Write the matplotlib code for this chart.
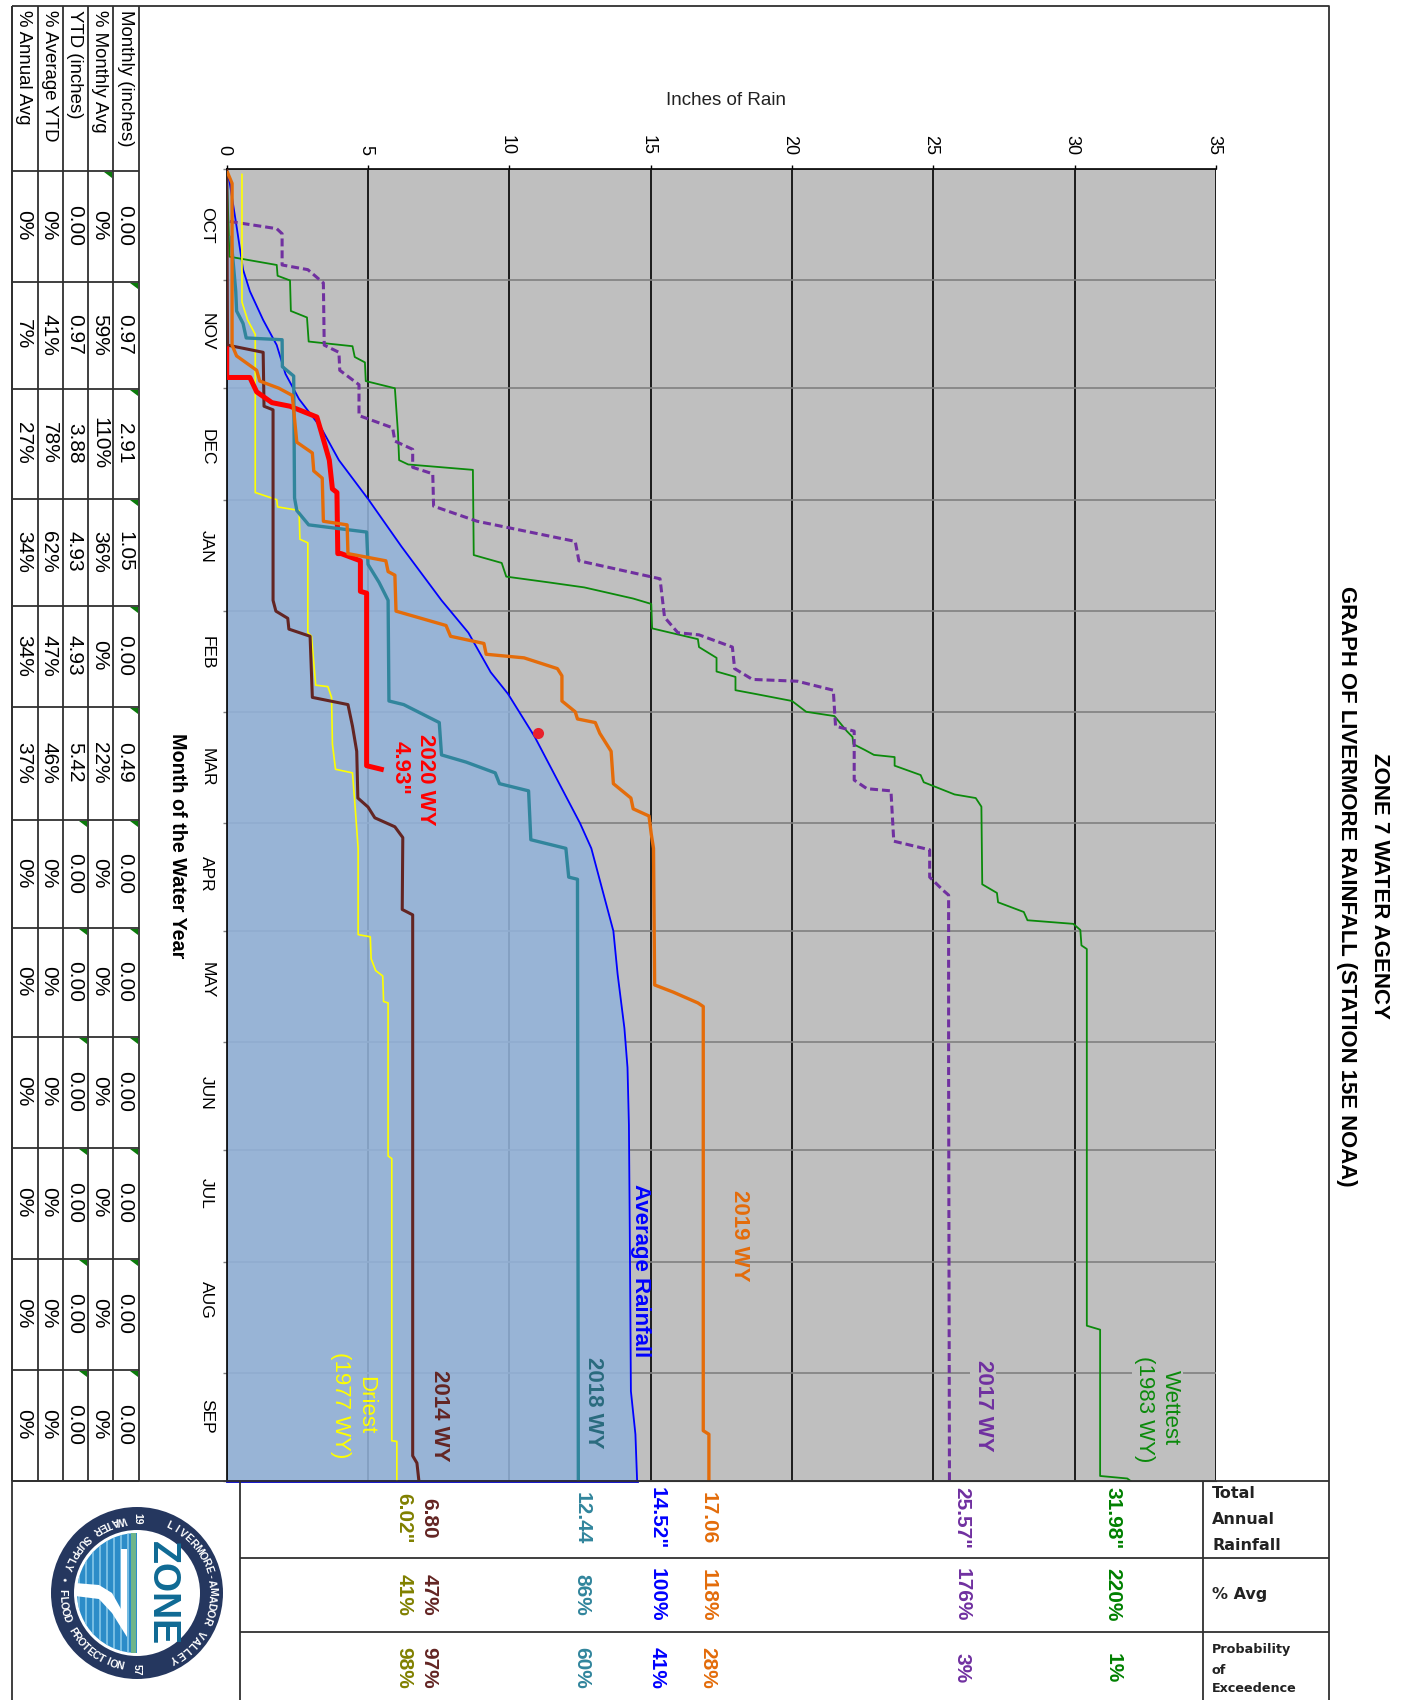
import numpy as np
import matplotlib
matplotlib.use('Agg')
import matplotlib.pyplot as plt
from matplotlib.patches import Circle, Wedge, Polygon, Rectangle
from matplotlib.transforms import ScaledTranslation

W, H = 1407, 1700
NARROW = ['Liberation Sans Narrow', 'Liberation Sans', 'DejaVu Sans']
plt.rcParams['font.family'] = ['Liberation Sans', 'DejaVu Sans']

# days since Oct 1, inches of rain
avg_days = [0, 4, 16, 28, 34, 42, 49, 57, 64, 72, 81, 92, 105, 120, 129, 140, 146, 158, 170, 182, 189, 212, 224, 239, 250,
            266, 295, 340, 352, 365]
avg_in = [0, 0.11, 0.35, 0.58, 0.82, 1.29, 1.77, 2.08, 2.56, 3.34, 3.97, 5.02, 6.18, 7.6, 8.55, 9.34, 9.95, 10.9, 11.7,
          12.5, 12.9, 13.68, 13.83, 14.07, 14.18, 14.23, 14.26, 14.3, 14.46, 14.52]

wy2019_days = [1, 4, 49, 52, 56, 59, 61, 63, 76, 79, 84, 86, 98, 99, 107, 109, 112, 113, 123, 127, 130, 132, 135, 136,
               139, 141, 148, 151, 153, 154, 157, 162, 171, 175, 178, 180, 185, 189, 227, 229, 232, 233, 351, 352, 365]
wy2019_in = [0.03, 0.19, 0.19, 0.35, 1.06, 1.17, 1.85, 2.32, 2.48, 3.03, 3.08, 3.38, 3.42, 4.26, 4.29, 5.63, 5.71, 5.95,
             5.99, 7.76, 7.92, 9.1, 9.18, 10.52, 11.7, 11.86, 11.86, 12.33, 12.41, 13.04, 13.2, 13.6, 13.68, 14.3, 14.38,
             14.94, 15.02, 15.1, 15.14, 15.8, 16.67, 16.86, 16.86, 17.06, 17.06]

wy2020_days = [50, 58, 58, 62, 65, 66, 69, 73, 81, 89, 90, 107, 107, 109, 117.5, 118, 166, 167]
wy2020_in = [0, 0, 0.82, 1.06, 1.6, 2.24, 3.19, 3.34, 3.63, 3.74, 3.9, 3.93, 4.05, 4.73, 4.73, 4.95, 4.95, 5.47]

wy2018_days = [19, 34, 39.5, 43, 47, 47.5, 55, 57.6, 91.5, 95, 99, 101, 110, 115, 120, 148, 149, 154, 163, 165, 168, 171,
               173, 186.6, 189, 197, 197.6, 365]
wy2018_in = [0.15, 0.32, 0.35, 0.58, 0.69, 1.96, 1.97, 2.37, 2.4, 2.48, 2.9, 4.95, 5.0, 5.39, 5.71, 5.74, 6.26, 7.52, 7.6,
             8.47, 9.5, 9.65, 10.68, 10.76, 12.0, 12.1, 12.41, 12.44]

wy2014_days = [0, 49, 51, 66, 67, 120, 123, 125, 128, 130, 147, 149, 155, 162, 175, 177.5, 180.5, 183, 186, 206, 207.5,
               358, 360, 365]
wy2014_in = [0, 0.03, 1.29, 1.32, 1.64, 1.64, 1.74, 2.16, 2.2, 2.95, 3.03, 4.29, 4.45, 4.6, 4.64, 5.0, 5.24, 5.95, 6.23,
             6.21, 6.58, 6.58, 6.73, 6.8]

wy1977_days = [1.5, 37, 42, 46, 90, 92, 94, 95, 103, 104, 129, 130, 143.6, 144, 147, 160, 167, 168, 176, 189, 213, 213.6,
               219.7, 223, 224.5, 231.6, 232, 274.6, 275.3, 353.8, 354, 365]
wy1977_in = [0.54, 0.54, 0.74, 1.01, 1.01, 1.77, 1.8, 2.56, 2.59, 2.87, 2.87, 3.0, 3.15, 3.58, 3.71, 3.74, 3.85, 4.45,
             4.53, 4.65, 4.65, 5.08, 5.11, 5.27, 5.52, 5.55, 5.71, 5.71, 5.84, 5.84, 6.02, 6.02]

wy2017_days = [14.6, 16.6, 18, 26.7, 28, 31.7, 49, 51, 56, 60, 68.6, 72, 75.7, 78, 83, 84.8, 93.8, 98, 103.6, 109, 114,
               124.7, 129, 129.6, 133, 139, 142, 142.5, 145, 155, 156.4, 170, 172.4, 173, 187, 189.4, 197, 200.7, 202,
               250, 365]
wy2017_in = [0.11, 1.77, 1.96, 1.96, 2.87, 3.42, 3.45, 3.97, 4.0, 4.68, 4.68, 5.87, 5.95, 6.58, 6.58, 7.29, 7.32, 8.86,
             12.33, 12.46, 15.33, 15.49, 15.96, 16.71, 17.89, 17.97, 18.6, 20.19, 21.46, 21.54, 22.2, 22.2, 22.65, 23.5,
             23.6, 24.87, 24.87, 25.35, 25.54, 25.54, 25.57]

wy1983_days = [0, 24.4, 26.7, 29.7, 31, 39.5, 41.3, 48, 49.3, 52.3, 53.8, 59, 61, 73.5, 81, 82.2, 83.7, 107.4, 109.6,
               113.4, 115, 116.4, 119.5, 121, 127.8, 130.8, 133, 136, 139.8, 141.3, 145, 146, 148, 151, 152.2, 156.4, 158,
               160, 161.6, 163, 163.6, 166, 168.6, 170.6, 174, 175, 177.4, 199, 201.4, 204, 206.7, 209, 210, 211.7, 216,
               217, 321.8, 322.9, 363.6, 364.3, 365]
wy1983_in = [0, 0.1, 1.77, 1.8, 2.24, 2.27, 2.84, 2.9, 4.45, 4.53, 4.89, 4.92, 5.95, 6.06, 6.1, 6.42, 8.71, 8.74, 9.73,
             9.89, 11.39, 12.65, 14.38, 15.02, 15.05, 16.67, 16.71, 17.33, 17.33, 18.0, 18.0, 18.68, 20.0, 20.5, 21.5,
             21.94, 22.14, 22.17, 22.57, 22.9, 23.63, 23.63, 24.55, 24.66, 25.75, 26.5, 26.7, 26.73, 27.25, 27.29, 28.2,
             28.33, 29.95, 30.2, 30.24, 30.43, 30.43, 30.9, 30.9, 31.86, 31.98]

today_day, today_in = 157, 11.03

months = ['OCT', 'NOV', 'DEC', 'JAN', 'FEB', 'MAR', 'APR', 'MAY', 'JUN', 'JUL', 'AUG', 'SEP']
month_edges = [0, 31, 61, 92, 123, 151, 182, 212, 243, 273, 304, 335, 365]
month_label_days = [15.6, 45.4, 77.4, 105, 134.7, 166.4, 196, 225.7, 257, 285, 314.7, 347]

row_headers = ['Monthly (inches)', '% Monthly Avg', 'YTD (inches)', '% Average YTD', '% Annual Avg']
monthly_in = ['0.00', '0.97', '2.91', '1.05', '0.00', '0.49', '0.00', '0.00', '0.00', '0.00', '0.00', '0.00']
monthly_pct = ['0%', '59%', '110%', '36%', '0%', '22%', '0%', '0%', '0%', '0%', '0%', '0%']
ytd_in = ['0.00', '0.97', '3.88', '4.93', '4.93', '5.42', '0.00', '0.00', '0.00', '0.00', '0.00', '0.00']
ytd_pct = ['0%', '41%', '78%', '62%', '47%', '46%', '0%', '0%', '0%', '0%', '0%', '0%']
annual_pct = ['0%', '7%', '27%', '34%', '34%', '37%', '0%', '0%', '0%', '0%', '0%', '0%']

total_annual = ['31.98"', '25.57"', '17.06', '14.52"', '12.44', '6.80', '6.02"']
pct_avg = ['220%', '176%', '118%', '100%', '86%', '47%', '41%']
prob_exc = ['1%', '3%', '28%', '41%', '60%', '97%', '98%']
summary_colors = ['#008000', '#7030A0', '#E36C0A', '#0000FF', '#31859C', '#632523', '#808000']

# ---- figure and chart
fig = plt.figure(figsize=(W / 100, H / 100), dpi=100, facecolor='white')
left, right, top, bottom = 226.7, 1216, 169, 1481
ax = fig.add_axes([left / W, 1 - bottom / H, (right - left) / W, (bottom - top) / H], facecolor='#BFBFBF')
ax.set_xlim(0, 35)
ax.set_ylim(365, 0)
ax.xaxis.tick_top()
ax.set_xticks(range(0, 36, 5))
ax.set_yticks(month_edges)
ax.set_yticklabels([])
ax.set_yticks(month_label_days, months, minor=True)
ax.tick_params(axis='x', rotation=270, labelsize=13, pad=7, length=3, width=1)
ax.tick_params(axis='y', which='major', length=3, width=1, color='#808080')
ax.tick_params(axis='y', which='minor', length=0, labelsize=12.5, pad=9, labelrotation=270)
for lab in ax.get_yticklabels(minor=True):
    lab.set_va('center')
shift = ScaledTranslation(-2.5 / 100, 0, fig.dpi_scale_trans)
for lab in ax.get_xticklabels():
    lab.set_transform(lab.get_transform() + shift)
ax.grid(axis='x', color='black', lw=1.2, zorder=0)
ax.grid(axis='y', color='#808080', lw=1.2, zorder=0)
ax.set_axisbelow(True)
ax.spines['right'].set_visible(False)
ax.spines['top'].set_linewidth(1.2)
ax.spines['left'].set_linewidth(1.2)
ax.spines['bottom'].set_color('#404040')

ax.fill_betweenx(avg_days, 0, avg_in, color='#93B3DA', alpha=0.88, lw=0, zorder=1)
ax.plot(avg_in, avg_days, color='#0000FF', lw=1.3, zorder=3)
ax.plot([0, avg_in[-1]], [365, 365], color='#0000C8', lw=2, zorder=3, clip_on=False)
ax.plot(wy1983_in, wy1983_days, color='#0B8A0B', lw=1.3, zorder=3.1)
ax.plot(wy2017_in, wy2017_days, color='#7030A0', lw=2.2, ls=(0, (2.6, 1.3)), zorder=3.2)
ax.plot(wy1977_in, wy1977_days, color='#FFFF00', lw=1.2, zorder=3.3)
ax.plot(wy2014_in, wy2014_days, color='#632523', lw=2.2, zorder=3.4)
ax.plot(wy2020_in, wy2020_days, color='#FF0000', lw=3.6, zorder=3.5)
ax.plot(wy2018_in, wy2018_days, color='#31859C', lw=2.4, zorder=3.6)
ax.plot(wy2019_in, wy2019_days, color='#E46C0A', lw=2.4, zorder=3.7)
ax.plot([today_in], [today_day], 'o', color='#E8212B', ms=8, mew=0, zorder=4)

# ---- overlay in pixels for frame, tables and labels
ov = fig.add_axes([0, 0, 1, 1], facecolor='none')
ov.set_xlim(0, W)
ov.set_ylim(H, 0)
ov.axis('off')


def rule(xs, ys, lw=1.3, color='#303030'):
    ov.plot(xs, ys, color=color, lw=lw, solid_capstyle='butt')


def vtext(x, y, s, size, color='black', weight='normal', family=None, bg=None):
    kw = {}
    if bg:
        kw['bbox'] = dict(facecolor=bg, edgecolor='none', pad=2)
    ov.text(x, y, s, rotation=270, ha='center', va='center', fontsize=size, color=color,
            fontweight=weight, family=family or ['Liberation Sans', 'DejaVu Sans'], zorder=10, **kw)


# frame
rule([12, 1329, 1329], [5.5, 5.5, 1700])
rule([12, 12], [5.5, 1700])

# left table
table_cols = [139, 113, 88, 62.5, 37.5, 12]
table_rows = [171, 282, 389, 499, 606, 707, 820, 928, 1037, 1148, 1259, 1370, 1481]
table_cells = [monthly_in, monthly_pct, ytd_in, ytd_pct, annual_pct]
for x in table_cols:
    rule([x, x], [5.5, 1481])
for y in table_rows:
    rule([12, 139], [y, y])
for c, (head, cells) in enumerate(zip(row_headers, table_cells)):
    xc = (table_cols[c] + table_cols[c + 1]) / 2 - 1
    ov.text(xc, 10, head, rotation=270, ha='center', va='top', fontsize=13.4)
    for r, val in enumerate(cells):
        vtext(xc, (table_rows[r] + table_rows[r + 1]) / 2 - 1, val, 15)

# cell comment markers
flags = [(0, r) for r in range(1, 12)] + [(1, 0)] + [(2, r) for r in range(6, 12)]
for c, r in flags:
    xr, yt = table_cols[c] - 1, table_rows[r] + 1
    ov.add_patch(Polygon([(xr - 8, yt), (xr, yt), (xr, yt + 6)], color='#0B7A0B', lw=0))

# bottom table
rule([12, 1329], [1481, 1481])
rule([240, 240], [1481, 1700])
rule([240, 1329], [1558, 1558])
rule([240, 1329], [1632, 1632])
rule([1203, 1203], [1481, 1700])
summary_x = [1113, 962, 708, 657, 582, 429, 404]
for x, a, b, c, col in zip(summary_x, total_annual, pct_avg, prob_exc, summary_colors):
    vtext(x, 1518, a, 15, col, 'bold', NARROW)
    vtext(x, 1595, b, 15, col, 'bold', NARROW)
    vtext(x, 1668, c, 15, col, 'bold', NARROW)

side = ['DejaVu Sans']
for y, s in zip([1494, 1520, 1545], ['Total', 'Annual', 'Rainfall']):
    ov.text(1212, y, s, fontsize=11.5, fontweight='bold', va='center', family=side, color='#222222')
ov.text(1212, 1594, '% Avg', fontsize=11.5, fontweight='bold', va='center', family=side, color='#222222')
for y, s in zip([1650, 1670, 1688], ['Probability', 'of', 'Exceedence']):
    ov.text(1212, y, s, fontsize=9.2, fontweight='bold', va='center', family=side, color='#222222')

# titles
vtext(1379, 886, 'ZONE 7 WATER AGENCY', 16, weight='bold', family=NARROW)
vtext(1347, 886, 'GRAPH OF LIVERMORE RAINFALL (STATION 15E NOAA)', 15.9, weight='bold', family=NARROW)
ov.text(726, 100, 'Inches of Rain', fontsize=13.5, ha='center', va='center', color='#222222')
vtext(177, 846, 'Month of the Water Year', 14.2, weight='bold')

# series labels
vtext(426, 780, '2020 WY', 16, '#FF0000', 'bold', NARROW)
vtext(400, 768, '4.93"', 16, '#FF0000', 'bold', NARROW)
vtext(739, 1236, '2019 WY', 16, '#E46C0A', 'bold', NARROW)
vtext(641, 1271, 'Average Rainfall', 16, '#0000FF', 'bold', NARROW)
vtext(593, 1403, '2018 WY', 16, '#2A6B7E', 'bold', NARROW)
vtext(440, 1416, '2014 WY', 16, '#632523', 'bold', NARROW)
vtext(366, 1405, 'Driest', 16, '#FFFF00', 'normal', NARROW)
vtext(340, 1405, '(1977 WY)', 16, '#FFFF00', 'normal', NARROW)
vtext(983, 1406, '2017 WY', 16, '#7030A0', 'bold', NARROW, bg='#BFBFBF')
vtext(1170, 1408, 'Wettest', 16, '#0B8A0B', 'normal', NARROW, bg='#BFBFBF')
vtext(1145, 1409, '(1983 WY)', 16, '#0B8A0B', 'normal', NARROW, bg='#BFBFBF')

# ---- logo
cx, cy = 137, 1593
ov.add_patch(Circle((cx, cy), 86, color='#25375F', lw=0, zorder=5))
ov.add_patch(Circle((cx, cy), 63, color='white', lw=0, zorder=5.1))
half = Wedge((cx, cy), 60, 90, 270, color='#2C8CC8', lw=0, zorder=5.2)
ov.add_patch(half)
for sx in np.arange(cx - 58, cx - 4, 7):
    ln, = ov.plot([sx, sx], [cy - 62, cy + 62], color='#8CCBEA', lw=1.1, zorder=5.3)
    ln.set_clip_path(half)
ov.add_patch(Rectangle((cx - 6, cy - 60), 5, 120, color='#6FB58A', lw=0, zorder=5.3))
sail = [(cx - 16, cy - 44), (cx - 10, cy - 44), (cx - 10, cy + 44), (cx - 25, cy + 20), (cx - 38, cy + 6), (cx - 62, cy + 3),
        (cx - 62, cy - 10), (cx - 38, cy - 8), (cx - 25, cy), (cx - 16, cy + 16)]
ov.add_patch(Polygon(sail, color='white', lw=0, zorder=5.4))
vtext(cx + 25, cy, 'ZONE', 27, '#0F6A94', 'bold', NARROW)


def arc_text(s, a0, a1, tops_out):
    for ch, a in zip(s, np.linspace(a0, a1, len(s))):
        t = np.radians(a)
        rot = a - 90 if tops_out else a + 90
        ov.text(cx + 75 * np.cos(t), cy - 75 * np.sin(t), ch, rotation=rot, ha='center', va='center',
                fontsize=7.5, fontweight='bold', color='white', zorder=10, rotation_mode='anchor')


arc_text('LIVERMORE-AMADOR VALLEY', 64, -61, True)
arc_text('WATER SUPPLY \u2022 FLOOD PROTECTION', 102, 257, False)
vtext(cx, cy - 74, '19', 7.5, 'white', 'bold')
vtext(cx, cy + 77, '57', 7.5, 'white', 'bold')

fig.savefig('out.png', dpi=100)
